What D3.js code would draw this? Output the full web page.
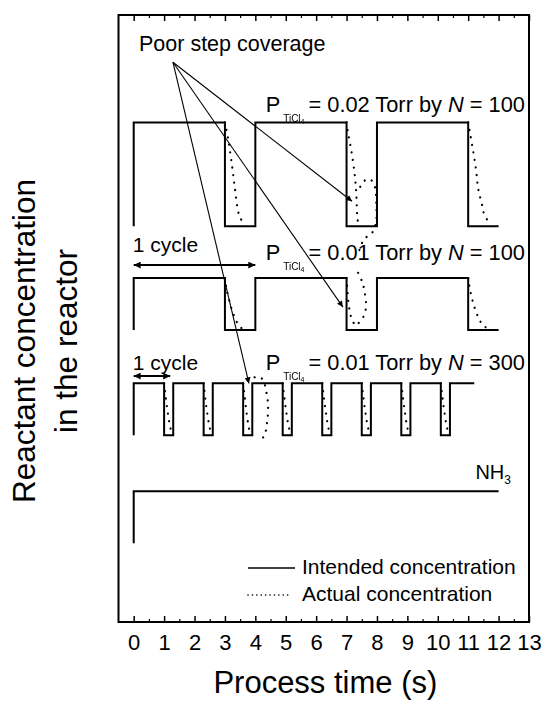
<!DOCTYPE html>
<html>
<head>
<meta charset="utf-8">
<script src="https://cdn.jsdelivr.net/npm/d3@7"></script>
<style>
  body { margin: 0; background: #fff; }
  svg { display: block; }
  text { font-family: "Liberation Sans", Arial, Helvetica, sans-serif; fill: #000; }
</style>
</head>
<body>
<svg id="chart" width="545" height="704"></svg>
<script>
// ---- data -------------------------------------------------------------

// process-time ticks (s)
const timeTicks = [0, 1, 2, 3, 4, 5, 6, 7, 8, 9, 10, 11, 12, 13];
const timeTickLabels = ["0", "1", "2", "3", "4", "5", "6", "7", "8", "9", "10", "11", "12", "13"];
const timeMinorTicks = [0.5, 1.5, 2.5, 3.5, 4.5, 5.5, 6.5, 7.5, 8.5, 9.5, 10.5, 11.5, 12.5];

// TiCl4 pulse trains: partial pressure (Torr) and number of cycles
const tiCl4Pressure = [0.02, 0.01, 0.01];
const cycleCount = [100, 100, 300];

// intended concentration, square waves: [time (s), on = 1 / off = 0]
const intendedN100 = [[0, 0], [0, 1], [3, 1], [3, 0], [4, 0], [4, 1], [7, 1], [7, 0],
                      [8, 0], [8, 1], [11, 1], [11, 0], [12, 0]];
const intendedN300 = [[0, 0], [0, 1], [1.0, 1], [1.0, 0], [1.3, 0], [1.3, 1], [2.3, 1], [2.3, 0],
                      [2.6, 0], [2.6, 1], [3.6, 1], [3.6, 0], [3.9, 0], [3.9, 1], [4.9, 1], [4.9, 0],
                      [5.2, 0], [5.2, 1], [6.2, 1], [6.2, 0], [6.5, 0], [6.5, 1], [7.5, 1], [7.5, 0],
                      [7.8, 0], [7.8, 1], [8.8, 1], [8.8, 0], [9.1, 0], [9.1, 1], [10.1, 1], [10.1, 0],
                      [10.4, 0], [10.4, 1], [11.2, 1]];
const intendedNH3 = [[0, 0], [0, 1], [12, 1]];

// actual concentration after each TiCl4 shut-off: [time (s), fraction of pulse level]
const actual002N100 = [
  [[3.0, 1], [3.1, 0.85], [3.23, 0.59], [3.33, 0.36], [3.43, 0.15], [3.5, 0.08], [3.63, 0.03]],
  [[7.0, 1], [7.05, 0.9], [7.15, 0.74], [7.25, 0.54], [7.3, 0.4], [7.33, 0.25], [7.35, 0.1], [7.38, 0.03]],
  [[7.45, 0.38], [7.6, 0.44], [7.78, 0.45], [7.93, 0.38], [7.98, 0.2], [7.97, 0.04],
   [7.85, -0.06], [7.6, -0.12], [7.45, -0.2], [7.38, -0.3]],
  [[11.0, 1], [11.06, 0.9], [11.16, 0.73], [11.26, 0.54], [11.33, 0.36], [11.46, 0.2], [11.52, 0.12], [11.65, 0.05]]
];
const actual001N100 = [
  [[3.0, 1], [3.05, 0.8], [3.15, 0.55], [3.28, 0.3], [3.42, 0.12], [3.55, 0.03]],
  [[7.0, 1], [7.03, 0.75], [7.08, 0.45], [7.15, 0.25], [7.28, 0.08]],
  [[7.38, 1.1], [7.52, 0.92], [7.6, 0.71], [7.64, 0.44], [7.55, 0.25], [7.38, 0.12], [7.28, 0.05]],
  [[11.0, 1], [11.08, 0.72], [11.2, 0.45], [11.35, 0.22], [11.5, 0.08], [11.7, 0.02]]
];
const actual001N300 = [
  [[1.0, 1], [1.04, 0.8], [1.08, 0.6], [1.13, 0.4], [1.18, 0.22], [1.23, 0.08]],
  [[2.3, 1], [2.34, 0.78], [2.38, 0.58], [2.43, 0.38], [2.48, 0.2], [2.53, 0.07]],
  [[3.6, 1], [3.64, 0.8], [3.68, 0.6], [3.72, 0.4], [3.77, 0.2], [3.82, 0.06]],
  [[3.75, 1.05], [4.0, 1.12], [4.22, 1.09], [4.38, 0.78], [4.42, 0.5], [4.38, 0.22], [4.3, 0.0], [4.1, -0.15]],
  [[4.9, 1], [4.94, 0.8], [4.98, 0.6], [5.03, 0.4], [5.08, 0.22], [5.13, 0.08]],
  [[6.2, 1], [6.24, 0.79], [6.28, 0.6], [6.33, 0.4], [6.38, 0.21], [6.43, 0.07]],
  [[7.5, 1], [7.54, 0.8], [7.58, 0.6], [7.63, 0.4], [7.68, 0.22], [7.73, 0.08]],
  [[8.8, 1], [8.84, 0.8], [8.88, 0.6], [8.93, 0.4], [8.98, 0.2], [9.03, 0.07]],
  [[10.1, 1], [10.14, 0.8], [10.18, 0.6], [10.23, 0.4], [10.28, 0.21], [10.33, 0.08]]
];

// ---- layout -----------------------------------------------------------

const svg = d3.select("#chart");
const x = d3.scaleLinear().domain([-0.5, 13]).range([118.5, 529]);
const y = d3.scaleLinear().domain([0, 11.7]).range([622, 15]);
const unit = 0.01; // Torr per vertical unit

const traces = [
  { wave: intendedN100, base: 7.63, amp: tiCl4Pressure[0] / unit, actual: actual002N100 },
  { wave: intendedN100, base: 5.63, amp: tiCl4Pressure[1] / unit, actual: actual001N100 },
  { wave: intendedN300, base: 3.60, amp: tiCl4Pressure[2] / unit, actual: actual001N300 },
  { wave: intendedNH3,  base: 1.52, amp: 1, actual: [] }
];

const defs = svg.append("defs");
defs.append("marker")
  .attr("id", "head")
  .attr("viewBox", "0 0 10 10").attr("refX", 10).attr("refY", 5)
  .attr("markerWidth", 9).attr("markerHeight", 6)
  .attr("markerUnits", "userSpaceOnUse")
  .attr("orient", "auto-start-reverse")
  .append("path").attr("d", "M0,0 L10,5 L0,10 z").attr("fill", "#000");
defs.append("marker")
  .attr("id", "headBold")
  .attr("viewBox", "0 0 10 10").attr("refX", 10).attr("refY", 5)
  .attr("markerWidth", 9).attr("markerHeight", 7)
  .attr("markerUnits", "userSpaceOnUse")
  .attr("orient", "auto-start-reverse")
  .append("path").attr("d", "M0,0 L10,5 L0,10 z").attr("fill", "#000");
// identity filter: small subscripts are rasterised in plain greyscale
defs.append("filter").attr("id", "flat")
  .attr("x", "-10%").attr("y", "-30%").attr("width", "120%").attr("height", "160%")
  .append("feOffset").attr("dx", 0).attr("dy", 0);

// ---- axes and frame ---------------------------------------------------

const axisBottomG = svg.append("g")
  .attr("transform", `translate(0,${y.range()[0]})`)
  .call(d3.axisBottom(x).tickValues(timeTicks)
    .tickFormat((d, i) => timeTickLabels[i])
    .tickSizeInner(-6).tickSizeOuter(0).tickPadding(12));
axisBottomG.select(".domain").remove();
axisBottomG.selectAll("line").attr("stroke", "#000").attr("stroke-width", 1.5);
axisBottomG.selectAll("text").attr("font-size", 22).style("font-family", "Liberation Sans, Arial, sans-serif");

const axisBottomMinorG = svg.append("g")
  .attr("transform", `translate(0,${y.range()[0]})`)
  .call(d3.axisBottom(x).tickValues(timeMinorTicks).tickFormat("").tickSizeInner(-3).tickSizeOuter(0));
axisBottomMinorG.select(".domain").remove();
axisBottomMinorG.selectAll("line").attr("stroke", "#000").attr("stroke-width", 1.2);

const axisTopG = svg.append("g")
  .attr("transform", `translate(0,${y.range()[1]})`)
  .call(d3.axisTop(x).tickValues(timeTicks).tickFormat("").tickSizeInner(-6).tickSizeOuter(0));
axisTopG.select(".domain").remove();
axisTopG.selectAll("line").attr("stroke", "#000").attr("stroke-width", 1.5);

const axisTopMinorG = svg.append("g")
  .attr("transform", `translate(0,${y.range()[1]})`)
  .call(d3.axisTop(x).tickValues(timeMinorTicks).tickFormat("").tickSizeInner(-3).tickSizeOuter(0));
axisTopMinorG.select(".domain").remove();
axisTopMinorG.selectAll("line").attr("stroke", "#000").attr("stroke-width", 1.2);

svg.append("rect")
  .attr("x", x.range()[0]).attr("y", y.range()[1])
  .attr("width", x.range()[1] - x.range()[0])
  .attr("height", y.range()[0] - y.range()[1])
  .attr("fill", "none").attr("stroke", "#000").attr("stroke-width", 2);

// axis titles
svg.append("text")
  .attr("x", (x(0) + x(13)) / 2 - 6).attr("y", 693)
  .attr("text-anchor", "middle").attr("font-size", 31)
  .text("Process time (s)");

const yTitle = svg.append("g").attr("transform", "translate(0,341) rotate(-90)");
yTitle.append("text").attr("x", 0).attr("y", 35)
  .attr("text-anchor", "middle").attr("font-size", 31.5)
  .text("Reactant concentration");
yTitle.append("text").attr("x", 0).attr("y", 77)
  .attr("text-anchor", "middle").attr("font-size", 31.5)
  .text("in the reactor");

// ---- traces -----------------------------------------------------------

traces.forEach(tr => {
  const line = d3.line().x(d => x(d[0])).y(d => y(tr.base + tr.amp * d[1]));
  svg.append("path")
    .attr("d", line(tr.wave))
    .attr("fill", "none").attr("stroke", "#000")
    .attr("stroke-width", 2).attr("stroke-linejoin", "miter");
  const smooth = d3.line().curve(d3.curveCatmullRom.alpha(0.5))
    .x(d => x(d[0])).y(d => y(tr.base + tr.amp * d[1]));
  tr.actual.forEach(seg => {
    svg.append("path")
      .attr("d", smooth(seg))
      .attr("fill", "none").attr("stroke", "#000")
      .attr("stroke-width", 2.2).attr("stroke-linecap", "round")
      .attr("stroke-dasharray", "0.1 7.5");
  });
});

// ---- trace labels -----------------------------------------------------

const labelBaselines = [112, 260, 370];
traces.slice(0, 3).forEach((tr, i) => {
  const yb = labelBaselines[i];
  const g = svg.append("g");
  const main = g.append("text")
    .attr("x", 525).attr("y", yb).attr("text-anchor", "end").attr("font-size", 21.8);
  main.append("tspan").text(`= ${tiCl4Pressure[i].toFixed(2)} Torr by `);
  main.append("tspan").attr("font-style", "italic").text("N");
  main.append("tspan").text(` = ${cycleCount[i]}`);
  const mainStart = 525 - main.node().getComputedTextLength();
  const sub = g.append("text").attr("y", yb + 10).attr("font-size", 10)
    .attr("text-anchor", "end").attr("x", mainStart - 4)
    .attr("filter", "url(#flat)");
  sub.append("tspan").text("TiCl");
  sub.append("tspan").attr("font-size", 7).attr("dy", 1.5).text("4");
  const subStart = mainStart - 4 - sub.node().getComputedTextLength();
  g.append("text").attr("x", subStart - 3).attr("y", yb)
    .attr("text-anchor", "end").attr("font-size", 21.8).text("P");
});

const nh3 = svg.append("text").attr("x", 511).attr("y", 479)
  .attr("text-anchor", "end").attr("font-size", 20);
nh3.append("tspan").text("NH");
nh3.append("tspan").attr("font-size", 12).attr("dy", 5).text("3");

// ---- annotations ------------------------------------------------------

svg.append("text").attr("x", 139).attr("y", 51).attr("font-size", 21.5)
  .text("Poor step coverage");

// arrow origin under the caption, targets on the traces: [time, trace index, level]
const poorOrigin = [1.29, 10.79];
const poorTargets = [[3.79, 2, 1.0], [6.88, 1, 0.44], [7.18, 0, 0.24]];
poorTargets.forEach(([t, k, lv]) => {
  const tr = traces[k];
  svg.append("line")
    .attr("x1", x(poorOrigin[0])).attr("y1", y(poorOrigin[1]))
    .attr("x2", x(t)).attr("y2", y(tr.base + tr.amp * lv))
    .attr("stroke", "#000").attr("stroke-width", 1.1)
    .attr("marker-end", "url(#head)");
});

// "1 cycle" spans: [start, end (s), vertical position]
const cycleSpans = [[0, 4, 6.88], [0, 1.2, 4.74]];
const cycleLabelBaselines = [252, 370];
cycleSpans.forEach(([t0, t1, yy], i) => {
  svg.append("line")
    .attr("x1", x(t0)).attr("x2", x(t1)).attr("y1", y(yy)).attr("y2", y(yy))
    .attr("stroke", "#000").attr("stroke-width", 2)
    .attr("marker-start", "url(#headBold)").attr("marker-end", "url(#headBold)");
  svg.append("text").attr("x", x(t0) - 1).attr("y", cycleLabelBaselines[i])
    .attr("font-size", 21).text("1 cycle");
});

// ---- legend -----------------------------------------------------------

const legendItems = ["Intended concentration", "Actual concentration"];
const legendY = [568, 595];
legendItems.forEach((name, i) => {
  svg.append("line")
    .attr("x1", 248).attr("x2", i === 0 ? 295 : 291)
    .attr("y1", legendY[i]).attr("y2", legendY[i])
    .attr("stroke", "#000")
    .attr("stroke-width", 1.6)
    .attr("stroke-linecap", i === 0 ? "butt" : "round")
    .attr("stroke-dasharray", i === 0 ? null : "0.1 4.3");
  svg.append("text").attr("x", 302).attr("y", legendY[i] + 6)
    .attr("font-size", 21).text(name);
});
</script>
</body>
</html>
